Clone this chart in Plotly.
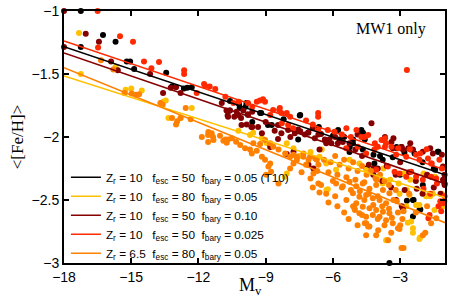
import plotly.graph_objects as go

# ---------------- data ----------------
# scatter points: (M_V, <[Fe/H]>)
black_pts = [
    (-17.25, -1.0), (-16.26, -1.19), (-15.7, -1.245), (-17.25, -1.285), (-15.2, -1.40), (-15.05, -1.40),
    (-14.87, -1.46), (-13.44, -1.49), (-13.18, -1.60), (-12.5, -1.61), (-12.3, -1.605), (-12.65, -1.615),
    (-10.6, -1.79), (-10.59, -1.714), (-10.19, -1.74), (-9.25, -1.81), (-9.6, -1.88), (-8.9, -1.905),
    (-8.73, -1.905), (-7.46, -1.825), (-7.1, -1.965), (-7.55, -2.02), (-9.86, -1.73), (-10.16, -1.77),
    (-9.2, -1.81), (-7.48, -1.83), (-5.77, -1.945), (-4.73, -1.945), (-4.58, -2.02), (-5.1, -2.02),
    (-5.25, -2.08), (-3.16, -2.08), (-2.52, -2.10), (-2.94, -2.08), (-6.63, -1.92), (-4.66, -1.966),
    (-5.71, -2.02), (-5.11, -2.05), (-5.26, -2.12), (-4.67, -2.10), (-4.15, -2.21), (-3.78, -2.18),
    (-3.33, -2.16), (-2.81, -2.125), (-2.36, -2.13), (-1.32, -2.117), (-2.43, -2.5), (-2.7, -2.505),
    (-2.14, -2.58), (-2.43, -2.63), (-3.48, -3.0), (-1.99, -2.38), (-1.02, -2.37), (-3.15, -2.09),
    (-1.29, -2.117), (-4.19, -2.14), (-1.44, -2.26), (-2.4, -2.5), (-2.1, -2.575), (-9.9, -1.76),
    (-8.2, -1.86), (-6.0, -1.99), (-5.5, -2.0), (-3.9, -2.15), (-2.0, -2.2), (-1.5, -2.25), (-3.0, -2.3),
    (-4.5, -2.25),
]
yellow_pts = [
    (-17.33, -1.175), (-17.25, -1.50), (-15.7, -1.445), (-15.25, -1.625), (-15.0, -1.615), (-14.53, -1.63),
    (-13.46, -1.71), (-13.57, -1.72), (-13.34, -1.85), (-12.3, -1.77), (-12.8, -1.85), (-10.22, -1.95),
    (-9.7, -1.984), (-9.56, -1.966), (-9.17, -2.01), (-8.95, -2.05), (-8.06, -2.05), (-7.76, -2.09),
    (-6.6, -2.156), (-6.3, -2.21), (-5.86, -2.26), (-5.26, -2.18), (-4.82, -2.21), (-4.52, -2.26),
    (-4.07, -2.315), (-3.78, -2.37), (-8.06, -2.29), (-8.15, -2.315), (-6.29, -2.42), (-3.63, -2.82),
    (-2.51, -2.67), (-2.12, -2.80), (-6.23, -2.415), (-3.58, -2.817), (-2.66, -2.68), (-2.43, -2.725),
    (-2.43, -2.76), (-2.14, -2.81), (-1.47, -2.58), (-1.09, -2.55), (-1.02, -2.51), (-2.29, -2.54),
    (-2.14, -2.54), (-2.73, -2.55), (-3.03, -2.45), (-2.58, -2.46), (-1.84, -2.47), (-1.54, -2.45),
    (-3.45, -2.34), (-2.85, -2.29), (-1.96, -2.29), (-1.44, -2.315), (-1.14, -2.45), (-2.7, -2.42),
    (-3.07, -2.37), (-1.66, -2.47), (-3.75, -2.25), (-2.55, -2.34), (-7.5, -2.15), (-7.0, -2.12),
    (-6.5, -2.10),
]
darkred_pts = [
    (-18.0, -1.0), (-17.03, -1.18), (-16.44, -1.245), (-18.0, -1.285), (-15.9, -1.40), (-15.6, -1.47),
    (-14.16, -1.50), (-13.58, -1.65), (-13.24, -1.61), (-13.0, -1.605), (-12.8, -1.65), (-10.96, -1.73),
    (-10.75, -1.79), (-10.7, -1.83), (-10.6, -1.79), (-10.3, -1.80), (-10.0, -1.79), (-9.8, -1.82),
    (-10.4, -1.84), (-10.1, -1.85), (-9.6, -1.80), (-9.85, -1.90), (-9.6, -1.92), (-9.17, -1.97),
    (-8.45, -2.016), (-8.8, -2.08), (-7.55, -1.94), (-7.46, -1.955), (-7.25, -1.98), (-7.1, -1.965),
    (-6.65, -1.98), (-6.6, -2.10), (-10.68, -1.84), (-10.23, -1.825), (-9.79, -1.825), (-9.64, -1.92),
    (-10.08, -1.905), (-9.34, -1.92), (-8.45, -1.905), (-8.3, -1.97), (-8.0, -1.945), (-7.7, -1.97),
    (-6.81, -2.01), (-6.36, -2.02), (-6.07, -2.05), (-4.28, -1.89), (-3.68, -2.0), (-3.39, -2.04),
    (-2.94, -2.08), (-2.64, -2.09), (-6.53, -1.976), (-6.16, -2.02), (-6.3, -2.05), (-5.78, -2.05),
    (-5.56, -2.04), (-5.26, -2.05), (-3.33, -2.09), (-2.88, -2.10), (-2.43, -2.10), (-1.99, -2.117),
    (-1.54, -2.13), (-1.09, -2.235), (-1.02, -2.30), (-1.09, -2.34), (-1.02, -2.38), (-4.4, -2.22),
    (-4.0, -2.25), (-3.6, -2.23), (-3.2, -2.3), (-3.8, -2.35), (-4.2, -2.3), (-3.0, -2.2), (-2.6, -2.28),
    (-2.3, -2.35), (-1.8, -2.3), (-1.5, -2.4), (-2.0, -2.45), (-1.2, -2.45), (-2.8, -2.42), (-3.4, -2.4),
    (-3.18, -2.5), (-2.88, -2.566), (-3.3, -2.01), (-2.55, -2.05), (-1.66, -2.09), (-1.14, -2.14),
    (-2.93, -2.55), (-4.19, -2.25), (-2.26, -2.41), (-8.06, -2.135), (-7.76, -2.117), (-7.09, -2.22),
    (-6.87, -2.25), (-9.0, -1.88), (-8.6, -1.95), (-7.9, -2.0), (-6.9, -1.93), (-5.9, -2.0), (-5.0, -2.1),
    (-4.7, -2.15), (-4.9, -1.98),
]
red_pts = [
    (-16.5, -1.0), (-15.5, -1.20), (-14.92, -1.245), (-16.48, -1.29), (-14.43, -1.40), (-14.1, -1.455),
    (-13.76, -1.405), (-12.64, -1.47), (-12.64, -1.50), (-12.08, -1.65), (-11.7, -1.595), (-11.5, -1.60),
    (-11.25, -1.62), (-10.8, -1.68), (-11.75, -1.58), (-9.79, -1.73), (-9.4, -1.72), (-9.03, -1.72),
    (-8.8, -1.825), (-8.67, -1.785), (-8.4, -1.785), (-8.06, -1.81), (-7.91, -1.84), (-8.28, -1.89),
    (-8.0, -1.905), (-7.78, -1.93), (-6.66, -1.944), (-10.44, -1.73), (-9.26, -1.71), (-9.12, -1.70),
    (-8.37, -1.77), (-8.3, -1.81), (-6.66, -1.81), (-6.66, -1.84), (-5.4, -1.93), (-4.95, -1.944),
    (-4.73, -2.0), (-4.43, -1.984), (-4.13, -2.05), (-3.83, -2.024), (-3.68, -2.077), (-3.39, -2.077),
    (-3.09, -2.09), (-2.57, -2.097), (-1.82, -2.097), (-2.7, -1.468), (-6.23, -1.944), (-5.93, -1.958),
    (-4.59, -2.0), (-5.41, -2.09), (-4.89, -2.077), (-4.52, -2.13), (-4.15, -2.10), (-3.78, -2.024),
    (-3.63, -2.05), (-4.0, -2.077), (-3.18, -2.14), (-2.73, -2.156), (-2.29, -2.14), (-2.14, -2.18),
    (-1.76, -2.17), (-1.62, -2.21), (-1.25, -2.18), (-4.07, -2.26), (-3.55, -2.235), (-3.25, -2.275),
    (-3.03, -2.29), (-2.73, -2.315), (-2.51, -2.275), (-2.29, -2.315), (-1.99, -2.34), (-1.62, -2.315),
    (-1.39, -2.33), (-1.69, -2.62), (-1.17, -2.59), (-1.09, -2.526), (-1.02, -2.47), (-3.67, -2.01),
    (-2.11, -2.13), (-1.59, -2.21), (-1.14, -2.25), (-1.36, -2.37), (-1.96, -2.41), (-1.66, -2.45),
    (-1.21, -2.51), (-1.29, -2.55), (-1.74, -2.645), (-10.2, -1.72), (-9.6, -1.76), (-7.2, -1.87),
    (-6.9, -1.90), (-5.6, -1.98), (-5.2, -2.0),
]
orange_pts = [
    (-16.35, -1.39), (-15.8, -1.465), (-15.3, -1.65), (-14.98, -1.655), (-14.8, -1.665), (-14.65, -1.66),
    (-13.7, -1.73), (-13.6, -1.745), (-12.57, -1.77), (-13.18, -1.85), (-12.95, -1.875), (-13.0, -1.90),
    (-12.8, -1.85), (-12.35, -1.86), (-11.85, -2.0), (-11.57, -1.985), (-11.57, -2.04), (-11.35, -2.0),
    (-11.04, -1.99), (-10.8, -2.02), (-10.68, -2.02), (-11.56, -1.96), (-11.41, -1.97), (-11.33, -2.024),
    (-10.89, -2.03), (-10.74, -2.045), (-10.51, -2.01), (-10.32, -2.037), (-10.14, -2.064), (-9.92, -2.09),
    (-9.7, -2.10), (-9.55, -2.05), (-9.25, -2.056), (-9.03, -2.024), (-8.8, -2.05), (-8.66, -2.077),
    (-8.43, -2.10), (-8.13, -2.13), (-7.91, -2.156), (-7.76, -2.14), (-7.61, -2.18), (-7.32, -2.156),
    (-7.02, -2.156), (-6.72, -2.18), (-9.62, -2.13), (-9.4, -2.11), (-9.17, -2.156), (-9.03, -2.18),
    (-8.8, -2.21), (-8.88, -2.235), (-8.43, -2.37), (-7.76, -2.21), (-7.91, -2.25), (-7.61, -2.156),
    (-7.32, -2.13), (-7.09, -2.18), (-6.79, -2.17), (-6.65, -2.22), (-6.87, -2.29), (-6.65, -2.37),
    (-8.98, -2.30), (-8.76, -2.275), (-6.53, -2.38), (-5.86, -2.37), (-5.56, -2.39), (-5.26, -2.355),
    (-4.96, -2.39), (-4.67, -2.37), (-4.37, -2.41), (-4.07, -2.38), (-3.77, -2.42), (-3.48, -2.447),
    (-5.11, -2.447), (-4.82, -2.474), (-4.52, -2.46), (-4.22, -2.487), (-3.92, -2.50), (-3.63, -2.526),
    (-4.96, -2.526), (-4.67, -2.553), (-4.37, -2.566), (-4.07, -2.58), (-3.77, -2.593), (-3.48, -2.606),
    (-5.04, -2.566), (-4.82, -2.606), (-4.52, -2.633), (-4.22, -2.62), (-3.92, -2.633), (-3.63, -2.66),
    (-3.33, -2.685), (-4.52, -2.685), (-4.37, -2.71), (-3.1, -2.725), (-4.52, -2.78), (-4.07, -2.78),
    (-3.4, -2.76), (-3.03, -2.73), (-2.85, -2.88), (-1.99, -2.78), (-1.62, -2.685), (-1.39, -2.645),
    (-5.02, -2.58), (-4.58, -2.685), (-4.43, -2.71), (-3.98, -2.74), (-3.54, -2.82), (-2.94, -2.88),
    (-6.4, -2.18), (-6.1, -2.2), (-5.9, -2.15), (-5.7, -2.22), (-5.5, -2.18), (-5.3, -2.25), (-5.1, -2.2),
    (-4.9, -2.27), (-4.7, -2.23), (-4.5, -2.3), (-4.3, -2.27), (-4.1, -2.33), (-3.9, -2.3), (-3.7, -2.35),
    (-6.2, -2.28), (-5.8, -2.3), (-5.4, -2.32), (-5.0, -2.34), (-4.6, -2.36), (-6.0, -2.35), (-5.6, -2.4),
    (-5.2, -2.42), (-4.8, -2.43), (-4.4, -2.45), (-4.0, -2.47), (-6.3, -2.45), (-5.9, -2.47), (-5.4, -2.5),
    (-5.1, -2.55), (-4.6, -2.5), (-4.2, -2.54), (-3.8, -2.55), (-3.5, -2.57), (-5.8, -2.55), (-5.5, -2.6),
    (-3.3, -2.5), (-3.1, -2.6), (-2.9, -2.65), (-5.3, -2.65), (-4.9, -2.7), (-4.7, -2.62), (-4.0, -2.65),
    (-3.7, -2.7), (-6.7, -2.27), (-7.2, -2.22), (-7.4, -2.28), (-7.0, -2.33), (-6.9, -2.4), (-6.6, -2.44),
    (-6.2, -2.52), (-4.04, -2.34), (-3.15, -2.51), (-2.85, -2.59), (-3.0, -2.7), (-3.37, -2.64),
    (-1.88, -2.76), (-3.5, -2.38), (-3.2, -2.42), (-2.6, -2.45), (-2.3, -2.6), (-1.8, -2.55),
]

# fitted relations, evaluated at the ends of the M_V range
fit_mv = [-18.0, -1.0]
fit_black = [-1.283, -2.30]
fit_yellow = [-1.516, -2.48]
fit_darkred = [-1.333, -2.37]
fit_red = [-1.238, -2.26]
fit_orange = [-1.45, -2.68]

legend_names = [
    "Z<sub>r</sub> = 10\u00a0\u00a0 f<sub>esc</sub> = 50\u00a0 f<sub>bary</sub> = 0.05 (T10)",
    "Z<sub>r</sub> = 10\u00a0\u00a0 f<sub>esc</sub> = 80\u00a0 f<sub>bary</sub> = 0.05",
    "Z<sub>r</sub> = 10\u00a0\u00a0 f<sub>esc</sub> = 50\u00a0 f<sub>bary</sub> = 0.10",
    "Z<sub>r</sub> = 10\u00a0\u00a0 f<sub>esc</sub> = 50\u00a0 f<sub>bary</sub> = 0.025",
    "Z<sub>r</sub> = 6.5\u00a0 f<sub>esc</sub> = 80\u00a0 f<sub>bary</sub> = 0.05",
]
x_ticks = [-18, -15, -12, -9, -6, -3]
y_ticks = [-1, -1.5, -2, -2.5, -3]

# ---------------- figure ----------------
colors = ["#000000", "#FFC000", "#850000", "#FF2A00", "#FF8000"]
pts_all = [black_pts, yellow_pts, darkred_pts, red_pts, orange_pts]
fits = [fit_black, fit_yellow, fit_darkred, fit_red, fit_orange]

fig = go.Figure()
for pts, c in zip(pts_all, colors):
    fig.add_trace(go.Scatter(
        x=[p[0] for p in pts], y=[p[1] for p in pts], mode="markers",
        marker=dict(color=c, size=6, line=dict(width=0)),
        showlegend=False, cliponaxis=False, hoverinfo="skip"))
for f, c, name in zip(fits, colors, legend_names):
    fig.add_trace(go.Scatter(
        x=fit_mv, y=f, mode="lines", line=dict(color=c, width=1.6), name=name))

sans = "Liberation Sans, Arial, sans-serif"
serif = "Liberation Serif, Times New Roman, serif"

fig.update_layout(
    width=458, height=306,
    margin=dict(l=64, r=13, t=11, b=43, autoexpand=False),
    paper_bgcolor="white", plot_bgcolor="white",
    font=dict(family=sans, size=13, color="black"),
    showlegend=True,
    legend=dict(x=0.005, y=0.398, xanchor="left", yanchor="top",
                bgcolor="rgba(0,0,0,0)", borderwidth=0,
                font=dict(family=sans, size=11.8, color="black"),
                itemwidth=30, tracegroupgap=0),
    annotations=[
        dict(text="MW1 only", xref="paper", yref="paper", x=0.955, y=0.93,
             xanchor="right", yanchor="middle", showarrow=False,
             font=dict(family=serif, size=16, color="black")),
        dict(text="M<sub>v</sub>", xref="paper", yref="paper", x=0.455, y=-0.04,
             xanchor="left", yanchor="top", showarrow=False,
             font=dict(family=serif, size=18, color="black")),
    ],
)
fig.update_xaxes(
    range=[-18, -1], tickvals=x_ticks, ticktext=["\u2212" + str(abs(v)) for v in x_ticks],
    ticks="inside", ticklen=5, tickwidth=1.5, tickcolor="black",
    showline=True, linewidth=2, linecolor="black", mirror="allticks",
    showgrid=False, zeroline=False, tickfont=dict(family=sans, size=14),
    ticklabeloverflow="allow", automargin=False)
fig.update_yaxes(
    range=[-3, -1], tickvals=y_ticks, ticktext=["\u2212" + str(abs(v)) for v in y_ticks],
    ticks="inside", ticklen=5, tickwidth=1.5, tickcolor="black",
    showline=True, linewidth=2, linecolor="black", mirror="allticks",
    showgrid=False, zeroline=False, tickfont=dict(family=sans, size=14),
    ticklabeloverflow="allow", automargin=False,
    title=dict(text="<[Fe/H]>", font=dict(family=serif, size=17), standoff=4))

# remove the browser's default 8 px page margin so the figure sits at the window origin
fig.write_html("out.html", config={"displayModeBar": False},
               post_script="document.body.style.margin='0';")
